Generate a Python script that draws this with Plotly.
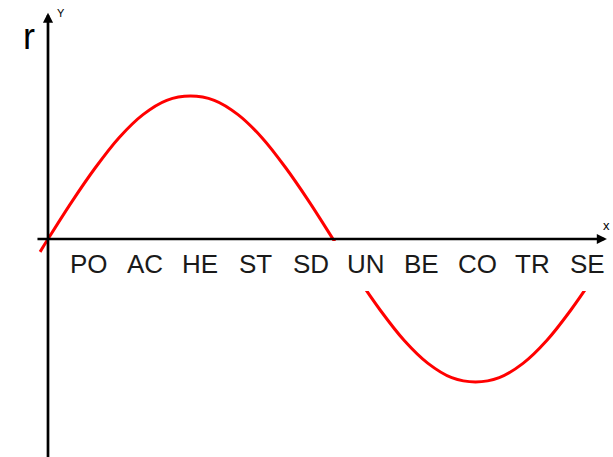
import plotly.graph_objects as go

# curve: angle in degrees, r value
angle = [-5, 0, 15, 30, 45, 60, 75, 90, 105, 120, 135, 150, 165, 180,
         195, 210, 225, 240, 255, 270, 285, 300, 315, 330, 345, 360]
r_val = [-0.09, 0, 0.26, 0.5, 0.71, 0.87, 0.97, 1, 0.97, 0.87, 0.71, 0.5, 0.26, 0,
         -0.26, -0.5, -0.71, -0.87, -0.97, -1, -0.97, -0.87, -0.71, -0.5, -0.26, 0]

# category labels along the horizontal axis
labels = ["PO", "AC", "HE", "ST", "SD", "UN", "BE", "CO", "TR", "SE"]
label_pos = [26, 61, 96, 131, 166, 201, 236, 271, 306, 341]

W, H = 613, 457
FONT = "Liberation Sans, Arial, sans-serif"

fig = go.Figure()
fig.add_trace(go.Scatter(
    x=angle, y=r_val, mode="lines",
    line=dict(color="#ff0000", width=3, shape="spline"),
    hoverinfo="skip", showlegend=False,
))

# white strip behind the labels hides that part of the curve
fig.add_shape(type="rect", xref="paper", yref="paper",
              x0=49 / W, x1=1, y0=1 - 291 / H, y1=1 - 241 / H,
              fillcolor="white", line=dict(width=0), layer="above")

ann = []
# axes drawn as arrows
ann.append(dict(x=353, y=0, ax=-7.6, ay=0, xref="x", yref="y", axref="x", ayref="y",
                text="", showarrow=True, arrowhead=2, arrowsize=0.75,
                arrowwidth=2.7, arrowcolor="black", standoff=0, startstandoff=0))
ann.append(dict(x=0, y=1.583, ax=0, ay=-1.6, xref="x", yref="y", axref="x", ayref="y",
                text="", showarrow=True, arrowhead=2, arrowsize=0.75,
                arrowwidth=2.7, arrowcolor="black", standoff=0, startstandoff=0))

for lab, pos in zip(labels, label_pos):
    ann.append(dict(x=pos, y=0, xref="x", yref="y", text=lab, showarrow=False,
                    xanchor="center", yanchor="middle", yshift=-25,
                    font=dict(family=FONT, size=26, color="#1a1a1a")))

ann.append(dict(x=29 / W, y=1 - 36 / H, xref="paper", yref="paper", text="r",
                showarrow=False, xanchor="center", yanchor="middle",
                font=dict(family=FONT, size=36, color="black")))
ann.append(dict(x=61 / W, y=1 - 13 / H, xref="paper", yref="paper", text="Y",
                showarrow=False, xanchor="center", yanchor="middle",
                font=dict(family=FONT, size=11, color="black")))
ann.append(dict(x=606 / W, y=1 - 225 / H, xref="paper", yref="paper", text="x",
                showarrow=False, xanchor="center", yanchor="middle",
                font=dict(family=FONT, size=13, color="black")))

fig.update_layout(
    width=W, height=H, autosize=False,
    margin=dict(l=0, r=0, t=0, b=0),
    paper_bgcolor="white", plot_bgcolor="white",
    xaxis=dict(range=[-30.316, 356.84], visible=False, fixedrange=True),
    yaxis=dict(range=[-1.5245, 1.6713], visible=False, fixedrange=True),
    annotations=ann,
    showlegend=False,
)

fig.write_html("out.html", config={"displayModeBar": False},
               post_script="document.body.style.margin='0';")
